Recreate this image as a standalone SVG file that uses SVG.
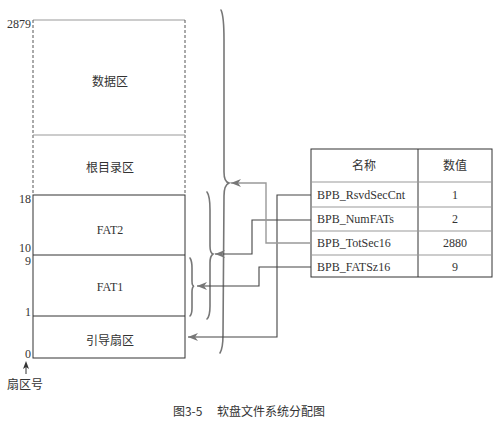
<svg xmlns="http://www.w3.org/2000/svg" width="500" height="427" viewBox="0 0 500 427">
<defs>
<style>
.t{font-family:"Liberation Serif","Noto Sans CJK SC",serif;font-size:12px;fill:#333}
.c{font-family:"Noto Sans CJK SC","Liberation Sans",sans-serif;font-size:12px;fill:#333}
.mid{text-anchor:middle}
.end{text-anchor:end}
.solid{fill:none;stroke:#333;stroke-width:1}
.grey{fill:none;stroke:#999;stroke-width:1}
.dash{fill:none;stroke:#555;stroke-width:1;stroke-dasharray:3,2}
.brace{fill:none;stroke:#777;stroke-width:1.6;stroke-linecap:round}
.dk{fill:none;stroke:#444;stroke-width:1.1}
.lt{fill:none;stroke:#999;stroke-width:1.4}
</style>
<marker id="ah" viewBox="0 0 10 8" refX="10" refY="4" markerWidth="10" markerHeight="8" markerUnits="userSpaceOnUse" orient="auto">
<path d="M10,4 L0,0 L3,4 L0,8 Z" fill="#777"/>
</marker>
</defs>

<g id="disk">
<line class="grey" x1="33" y1="20" x2="185" y2="20"/>
<line class="dash" x1="33" y1="20" x2="33" y2="195"/>
<line class="dash" x1="185" y1="20" x2="185" y2="195"/>
<line class="grey" x1="33" y1="135" x2="185" y2="135"/>
<rect class="solid" x="33" y="195" width="152" height="163"/>
<line class="solid" x1="33" y1="255" x2="185" y2="255"/>
<line class="solid" x1="33" y1="316" x2="185" y2="316"/>
</g>
<g id="data-area"><text class="c mid" x="110" y="86">数据区</text></g>
<g id="root-dir"><text class="c mid" x="110" y="172">根目录区</text></g>
<g id="fat2"><text class="t mid" x="110" y="234">FAT2</text></g>
<g id="fat1"><text class="t mid" x="110" y="291">FAT1</text></g>
<g id="boot"><text class="c mid" x="110" y="345">引导扇区</text></g>

<g id="sector-labels">
<text class="t end" x="31" y="28">2879</text>
<text class="t end" x="31" y="203">18</text>
<text class="t end" x="31" y="252">10</text>
<text class="t end" x="31" y="265">9</text>
<text class="t end" x="31" y="316">1</text>
<text class="t end" x="31" y="358">0</text>
<line x1="26" y1="374" x2="26" y2="366" stroke="#333" stroke-width="1"/>
<path d="M26,361 L23,369 L26,367 L29,369 Z" fill="#333"/>
<text class="c mid" x="25" y="389">扇区号</text>
</g>

<g id="braces">
<path class="brace" d="M221,10 Q224,16 224,40 L224,172 Q224,182 229,183 Q224,185 224,196 L223,335 Q223,348 220,353"/>
<path class="brace" d="M207,192 Q210,196 210,210 L210,246 Q210,253 213,254 Q210,256 210,263 L210,306 Q210,316 207,319"/>
<path class="brace" d="M190,258 Q192,261 192,268 L192,281 Q192,286 194,286 Q192,287 192,292 L192,308 Q192,314 190,316"/>
</g>

<g id="table">
<rect class="solid" x="311" y="149" width="181" height="128"/>
<line class="solid" x1="418" y1="149" x2="418" y2="277"/>
<line class="grey" x1="311" y1="182" x2="492" y2="182"/>
<line class="grey" x1="311" y1="207" x2="492" y2="207"/>
<line class="grey" x1="311" y1="231" x2="492" y2="231"/>
<line class="grey" x1="311" y1="255" x2="492" y2="255"/>
<text class="c mid" x="364" y="170">名称</text>
<text class="c mid" x="455" y="170">数值</text>
<g id="row-rsvd"><text class="t" x="317" y="199">BPB_RsvdSecCnt</text><text class="t mid" x="455" y="199">1</text></g>
<g id="row-numfats"><text class="t" x="317" y="223">BPB_NumFATs</text><text class="t mid" x="455" y="223">2</text></g>
<g id="row-totsec"><text class="t" x="317" y="247">BPB_TotSec16</text><text class="t mid" x="455" y="247">2880</text></g>
<g id="row-fatsz"><text class="t" x="317" y="271">BPB_FATSz16</text><text class="t mid" x="455" y="271">9</text></g>
</g>

<g id="connectors">
<polyline class="dk" points="311,195 277,195 277,337 188,337" marker-end="url(#ah)"/>
<polyline class="dk" points="311,220 252,220 252,254 215,254" marker-end="url(#ah)"/>
<polyline class="lt" points="311,243 266,243 266,183 231,183" marker-end="url(#ah)"/>
<polyline class="dk" points="311,267 259,267 259,286 197,286" marker-end="url(#ah)"/>
</g>

<g id="caption"><text class="c mid" x="249" y="416">图3-5　 软盘文件系统分配图</text></g>
</svg>
